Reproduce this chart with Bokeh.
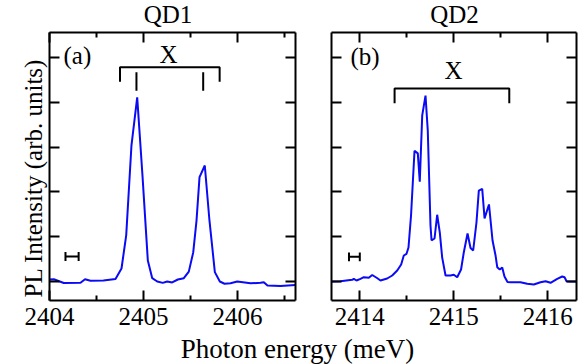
import math
from bokeh.plotting import figure
from bokeh.models import FixedTicker, LinearAxis, Label, Range1d, Title
from bokeh.layouts import row, column
from bokeh.embed import file_html
from bokeh.resources import INLINE

# ---------------- data ----------------
qd1_energy = [2404.000, 2404.046, 2404.152, 2404.330, 2404.378, 2404.436, 2404.574,
              2404.702, 2404.766, 2404.816, 2404.872, 2404.933, 2404.989, 2405.046,
              2405.093, 2405.146, 2405.205, 2405.252, 2405.305, 2405.365, 2405.429,
              2405.482, 2405.529, 2405.564, 2405.596, 2405.652, 2405.700, 2405.759,
              2405.812, 2405.862, 2405.926, 2405.997, 2406.138, 2406.245, 2406.280,
              2406.319, 2406.457, 2406.617]
qd1_intensity = [0.045, 0.051, -0.033, -0.029, 0.049, 0.018, 0.022,
                 0.056, 0.29, 1.03, 3.04, 4.11, 2.37, 0.47,
                 0.074, 0.0, -0.03, 0.0, -0.02, 0.045, 0.074,
                 0.22, 0.65, 1.36, 2.33, 2.59, 1.40, 0.21,
                 0.0, -0.05, -0.04, 0.0, -0.04, -0.03, -0.016,
                 -0.09, -0.10, -0.08]

qd2_energy = [2413.699, 2413.795, 2413.919, 2413.936, 2413.965, 2414.007, 2414.043,
              2414.096, 2414.132, 2414.183, 2414.220, 2414.291, 2414.345, 2414.398,
              2414.440, 2414.468, 2414.497, 2414.518, 2414.545, 2414.582, 2414.617,
              2414.638, 2414.664, 2414.699, 2414.723, 2414.752, 2414.763, 2414.795,
              2414.823, 2414.851, 2414.876, 2414.912, 2414.965, 2415.000, 2415.036,
              2415.077, 2415.106, 2415.146, 2415.178, 2415.206, 2415.241, 2415.266,
              2415.302, 2415.327, 2415.374, 2415.412, 2415.444, 2415.462, 2415.489,
              2415.515, 2415.539, 2415.571, 2415.603, 2415.709, 2415.781, 2415.851,
              2415.922, 2415.976, 2416.029, 2416.100, 2416.153, 2416.178, 2416.199,
              2416.241, 2416.305]
qd2_intensity = [0.0, 0.007, 0.038, 0.060, 0.022, 0.060, 0.096,
                 0.083, 0.145, 0.078, 0.022, 0.067, 0.134, 0.246,
                 0.379, 0.580, 0.618, 0.759, 1.473, 2.92, 2.86,
                 2.23, 3.71, 4.15, 3.37, 1.25, 0.92, 0.96,
                 1.49, 1.09, 0.54, 0.134, 0.134, 0.150, 0.096,
                 0.268, 0.647, 1.07, 0.747, 0.692, 1.317, 2.03,
                 2.07, 1.41, 1.72, 0.915, 0.58, 0.319, 0.268,
                 0.313, 0.112, -0.011, -0.016, -0.016, -0.051, -0.067,
                 -0.016, 0.007, -0.029, 0.060, 0.112, 0.096, 0.007,
                 0.0, 0.0]

qd1_x_range = [2404.0, 2406.617]
qd2_x_range = [2413.699, 2416.305]
y_range = [-0.424, 5.558]

qd1_ticks = [2404, 2405, 2406]
qd1_minor_ticks = [2404.5, 2405.5, 2406.5]
qd2_ticks = [2414, 2415, 2416]
qd2_minor_ticks = [2414.5, 2415.5]
y_ticks = [0, 1, 2, 3, 4, 5]

titles = ["QD1", "QD2"]
panel_tags = ["(a)", "(b)"]
line_tag = "X"
x_axis_label = "Photon energy (meV)"
y_axis_label = "PL Intensity (arb. units)"

# X-line brackets
qd1_bracket_x = [2404.75, 2405.81]
qd1_bracket_y = [4.46, 4.78]
qd1_line_x = [2404.925, 2405.635]
qd1_line_y = [4.26, 4.67]
qd2_bracket_x = [2414.37, 2415.59]
qd2_bracket_y = [3.98, 4.31]

# resolution bars
qd1_bar_x = [2404.17, 2404.31]
qd2_bar_x = [2413.885, 2414.0]
bar_y = [0.56, 0.55]
bar_cap = 0.10

FONT = "Liberation Serif"
LINE_COLOR = "#0a0af5"


def style_axes(p, ticks, minor):
    for ax in p.xaxis:
        ax.ticker = FixedTicker(ticks=ticks, minor_ticks=minor)
    for ax in p.yaxis:
        ax.ticker = FixedTicker(ticks=y_ticks, minor_ticks=[])
    for ax in p.axis:
        ax.major_tick_in = 10
        ax.major_tick_out = 0
        ax.minor_tick_in = 5
        ax.minor_tick_out = 0
        ax.axis_line_width = 2
        ax.axis_line_color = "black"
        ax.major_tick_line_width = 2
        ax.minor_tick_line_width = 2
        ax.major_label_text_font = FONT
        ax.major_label_text_font_size = "25px"
        ax.major_label_text_color = "black"
        ax.major_label_standoff = 7
    for ax in p.above + p.right + p.left:
        tk = ticks if ax in p.above else y_ticks
        ax.major_label_overrides = {t: "" for t in tk}
        ax.major_label_text_font_size = "0px"
        ax.major_label_standoff = 0


def make_panel(xr, ticks, minor, fw, left_border, right_border):
    p = figure(frame_width=fw, frame_height=268,
               x_range=Range1d(*xr), y_range=Range1d(*y_range),
               output_backend="svg", toolbar_location=None,
               min_border_left=left_border, min_border_right=right_border,
               min_border_top=5, min_border_bottom=30)
    p.add_layout(LinearAxis(), "above")
    p.add_layout(LinearAxis(), "right")
    p.grid.visible = False
    p.outline_line_color = None
    p.background_fill_color = "white"
    p.border_fill_color = "white"
    style_axes(p, ticks, minor)
    return p


def strip(w, h):
    s = figure(width=w, height=h, x_range=Range1d(0, 1), y_range=Range1d(0, 1),
               output_backend="svg", toolbar_location=None, min_border=0,
               x_axis_location=None, y_axis_location=None)
    s.grid.visible = False
    s.outline_line_color = None
    return s


def add_text(p, x, y, text, align="left", xu="data", yu="data", size="25px", angle=0.0):
    p.add_layout(Label(x=x, y=y, x_units=xu, y_units=yu, text=text, text_font=FONT,
                       text_font_size=size, text_color="black", text_align=align,
                       text_baseline="alphabetic", angle=angle))


p1 = make_panel(qd1_x_range, qd1_ticks, qd1_minor_ticks, 246, 49, 18)
p2 = make_panel(qd2_x_range, qd2_ticks, qd2_minor_ticks, 245, 18, 8)

# y-axis label as a left title (lets us place it along the axis)
p1.add_layout(Title(text=y_axis_label, align="left", offset=3, standoff=6,
                    text_font=FONT, text_font_size="25px", text_font_style="normal",
                    text_color="black"), "left")

p1.line(qd1_energy, qd1_intensity, line_color=LINE_COLOR, line_width=2)
p2.line(qd2_energy, qd2_intensity, line_color=LINE_COLOR, line_width=2)

# brackets
p1.line([qd1_bracket_x[0], qd1_bracket_x[0], qd1_bracket_x[1], qd1_bracket_x[1]],
        [qd1_bracket_y[0], qd1_bracket_y[1], qd1_bracket_y[1], qd1_bracket_y[0]],
        line_color="black", line_width=2)
p1.segment(x0=qd1_line_x, y0=[qd1_line_y[0]] * 2, x1=qd1_line_x, y1=[qd1_line_y[1]] * 2,
           line_color="black", line_width=2)
p2.line([qd2_bracket_x[0], qd2_bracket_x[0], qd2_bracket_x[1], qd2_bracket_x[1]],
        [qd2_bracket_y[0], qd2_bracket_y[1], qd2_bracket_y[1], qd2_bracket_y[0]],
        line_color="black", line_width=2)

# resolution bars
for p, bx, by in ((p1, qd1_bar_x, bar_y[0]), (p2, qd2_bar_x, bar_y[1])):
    p.segment(x0=[bx[0], bx[0], bx[1]], y0=[by, by - bar_cap, by - bar_cap],
              x1=[bx[1], bx[0], bx[1]], y1=[by, by + bar_cap, by + bar_cap],
              line_color="black", line_width=2)

add_text(p1, 2404.149, 5.05, panel_tags[0])
add_text(p2, 2413.901, 5.02, panel_tags[1])
add_text(p1, 2405.266, 5.07, line_tag, align="center")
add_text(p2, 2414.997, 4.71, line_tag, align="center")

# top strip with panel titles
p_top = strip(584, 27)
add_text(p_top, 167.5, 13, titles[0], align="center", xu="screen", yu="screen")
add_text(p_top, 454, 13, titles[1], align="center", xu="screen", yu="screen")

# bottom strip with x label
p_bot = strip(584, 34)
add_text(p_bot, 297, 16, x_axis_label, align="center", xu="screen", yu="screen", size="27px")

layout = column(p_top, row(p1, p2), p_bot)
open("out.html", "w").write(file_html(layout, INLINE))
